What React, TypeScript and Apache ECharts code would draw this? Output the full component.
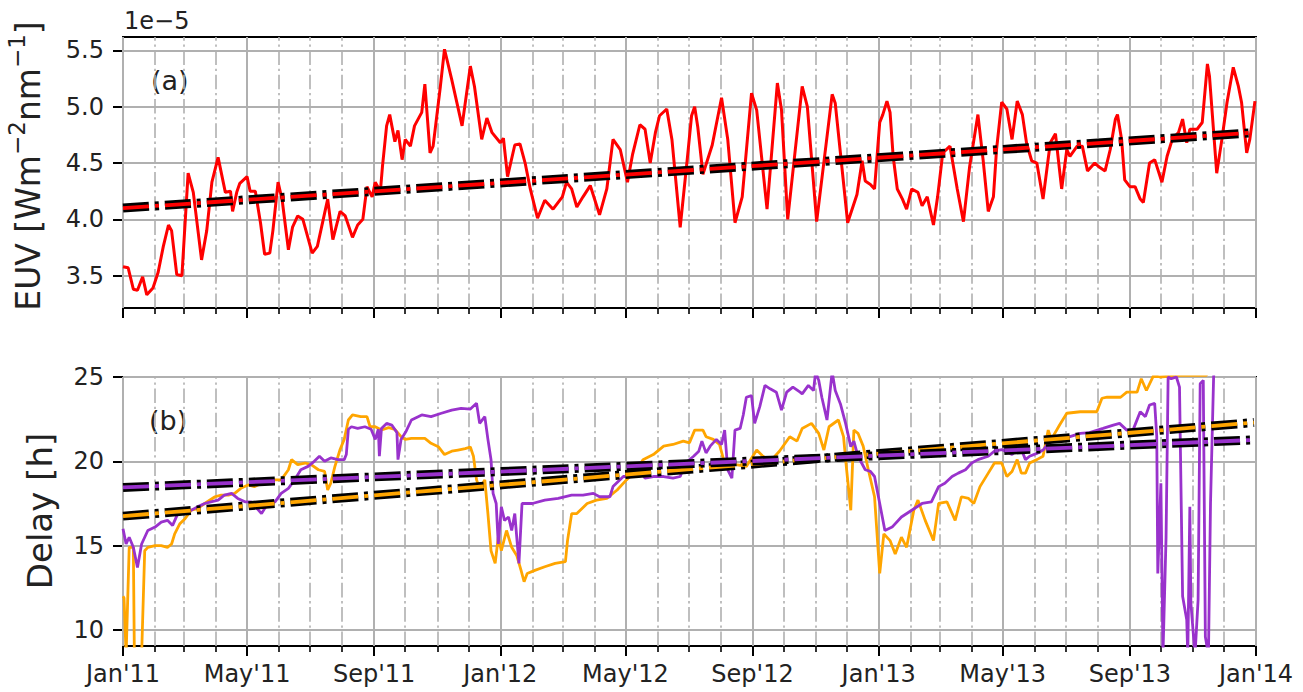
import React, { useEffect, useRef } from 'react';
import * as echarts from 'echarts';

// x values are days since 1 Jan 2011
const DAY0 = Date.UTC(2011, 0, 1);
const dayOf = (y: number, m: number) => Math.round((Date.UTC(y, m, 1) - DAY0) / 86400000);

const monthStarts: number[] = [];
for (let y = 2011; y <= 2013; y++) for (let m = 0; m < 12; m++) monthStarts.push(dayOf(y, m));
monthStarts.push(dayOf(2014, 0));
const majorDays = monthStarts.filter((_, i) => i % 4 === 0);
const xTickLabels = ["Jan'11", "May'11", "Sep'11", "Jan'12", "May'12", "Sep'12", "Jan'13", "May'13", "Sep'13", "Jan'14"];

const euvTicks = [3.5, 4.0, 4.5, 5.0, 5.5];
const delayTicks = [10, 15, 20, 25];

// EUV in units of 1e-5 W m^-2 nm^-1
const euv: [number, number][] = [
  [0,3.58],[5,3.57],[10,3.38],[14,3.37],[19,3.49],[23,3.33],[29,3.39],[34,3.53],[39,3.76],[44,3.95],[47,3.90],[52,3.51],[57,3.50],[63,4.41],[68,4.24],[76,3.64],[81,3.90],[86,4.33],[92,4.55],[99,4.24],[104,4.25],[106,4.07],[110,4.24],[113,4.32],[120,4.38],[123,4.25],[128,4.25],[133,3.97],[137,3.69],[142,3.70],[145,3.90],[150,4.33],[154,4.17],[160,3.73],[164,3.93],[169,4.03],[174,4.00],[183,3.70],[188,3.76],[198,4.18],[203,3.82],[210,4.07],[215,4.03],[222,3.84],[227,3.95],[232,4.00],[236,4.29],[241,4.20],[244,4.33],[249,4.25],[251,4.47],[255,4.83],[258,4.93],[263,4.69],[266,4.79],[270,4.53],[273,4.71],[278,4.65],[282,4.83],[289,4.95],[292,5.20],[297,4.59],[300,4.65],[307,5.18],[311,5.51],[318,5.24],[328,4.83],[336,5.36],[340,5.18],[347,4.71],[352,4.90],[357,4.77],[365,4.68],[368,4.72],[372,4.38],[379,4.66],[384,4.67],[389,4.50],[394,4.27],[401,4.01],[408,4.17],[416,4.09],[425,4.20],[429,4.33],[434,4.27],[439,4.11],[445,4.20],[452,4.30],[461,4.04],[468,4.27],[474,4.71],[481,4.62],[488,4.33],[493,4.58],[500,4.84],[505,4.80],[510,4.50],[515,4.77],[519,4.92],[526,4.98],[531,4.71],[539,3.93],[546,4.55],[550,4.92],[553,5.00],[556,4.82],[561,4.40],[570,4.66],[579,5.08],[585,4.71],[592,3.97],[599,4.20],[608,5.12],[613,4.97],[623,4.09],[633,5.21],[637,4.97],[643,4.00],[657,5.18],[662,5.00],[671,3.98],[686,5.11],[689,5.03],[701,3.97],[710,4.22],[715,4.52],[718,4.34],[723,4.31],[727,4.27],[732,4.86],[735,4.93],[739,5.05],[742,4.95],[745,4.56],[749,4.27],[754,4.18],[758,4.09],[763,4.27],[769,4.24],[773,4.12],[778,4.20],[784,3.95],[788,4.20],[793,4.59],[800,4.65],[807,4.27],[813,3.98],[819,4.47],[827,4.93],[832,4.53],[837,4.07],[842,4.20],[845,4.62],[850,5.04],[855,4.98],[860,4.71],[865,5.05],[870,4.93],[874,4.68],[879,4.52],[884,4.50],[890,4.18],[897,4.68],[902,4.76],[908,4.27],[913,4.62],[916,4.56],[923,4.65],[928,4.65],[933,4.43],[940,4.50],[945,4.46],[950,4.43],[955,4.62],[960,4.89],[962,4.93],[966,4.71],[969,4.35],[974,4.29],[979,4.29],[984,4.18],[987,4.15],[993,4.50],[998,4.53],[1005,4.33],[1010,4.56],[1015,4.71],[1021,4.77],[1025,4.89],[1029,4.68],[1032,4.80],[1039,4.80],[1044,4.86],[1049,5.38],[1051,5.27],[1058,4.41],[1063,4.71],[1068,5.04],[1074,5.35],[1079,5.18],[1082,5.04],[1087,4.59],[1090,4.71],[1095,5.05]
];

const delayPurple: [number, number][] = [
  [0,16.0],[1,15.7],[3,15.1],[6,15.5],[10,14.9],[14,13.7],[18,15.1],[21,15.5],[24,15.9],[31,16.1],[37,16.4],[43,16.5],[48,16.2],[53,16.9],[60,17.1],[66,17.1],[72,17.3],[79,17.5],[85,17.6],[92,17.7],[98,18.0],[105,18.1],[111,17.8],[118,17.6],[124,17.6],[134,16.9],[140,17.5],[147,17.6],[153,18.1],[160,18.4],[166,18.9],[172,19.5],[179,19.7],[185,20.0],[190,20.3],[195,20.0],[201,20.2],[208,20.1],[214,20.1],[216,20.4],[218,21.9],[221,22.05],[227,21.95],[234,22.05],[240,21.9],[244,21.3],[247,21.9],[248,20.3],[250,21.95],[255,22.25],[260,22.15],[265,21.7],[266,20.1],[269,21.3],[274,21.8],[279,22.45],[289,22.75],[298,22.65],[308,22.85],[318,23.04],[327,23.14],[336,23.1],[342,23.44],[345,22.25],[350,22.65],[353,21.3],[356,20.1],[358,18.1],[361,17.5],[363,15.1],[366,17.3],[369,16.5],[373,16.7],[376,15.9],[379,16.9],[383,13.95],[386,17.5],[396,17.5],[408,17.7],[421,17.8],[434,18.0],[445,18.0],[455,18.1],[461,17.9],[471,17.9],[474,18.5],[484,19.1],[494,19.1],[500,19.5],[505,19.0],[513,19.1],[523,19.1],[532,19.0],[539,19.1],[544,19.9],[552,20.3],[557,20.6],[560,21.2],[564,20.5],[568,20.9],[574,21.3],[579,21.0],[582,21.85],[585,19.5],[589,19.0],[592,21.85],[597,21.95],[600,22.75],[603,23.8],[608,23.9],[611,22.25],[616,23.24],[621,24.5],[626,24.3],[632,24.1],[637,23.04],[642,24.1],[648,24.4],[655,24.1],[657,24.0],[663,24.5],[668,24.2],[670,25.3],[673,24.8],[676,23.8],[681,22.45],[686,25.3],[689,24.2],[694,23.4],[699,22.25],[704,20.87],[707,21.2],[711,20.3],[718,19.5],[723,19.4],[727,19.1],[732,17.5],[737,15.9],[744,16.1],[753,16.7],[763,17.1],[773,17.5],[782,17.6],[789,18.5],[795,18.7],[802,19.1],[808,19.3],[815,19.5],[821,19.9],[827,20.1],[837,20.3],[843,20.6],[850,20.7],[860,20.4],[868,20.87],[873,20.1],[877,20.3],[884,20.47],[890,20.67],[897,21.2],[906,21.3],[916,21.46],[926,21.66],[935,21.7],[948,21.95],[958,22.15],[964,22.25],[971,21.85],[977,21.85],[984,22.94],[989,22.65],[993,23.34],[998,23.44],[1000,21.46],[1001,13.35],[1004,18.7],[1006,8.5],[1009,15.5],[1011,25.0],[1014,24.9],[1019,25.0],[1022,24.4],[1025,12.0],[1029,10.6],[1030,8.5],[1032,17.3],[1033,11.6],[1037,8.5],[1040,11.8],[1042,24.6],[1045,24.8],[1047,9.6],[1050,8.5],[1052,17.5],[1055,25.0],[1057,26.5]
];

const delayOrange: [number, number][] = [
  [0,12.0],[1,11.9],[3,8.5],[6,14.9],[10,14.9],[11,8.5],[18,8.5],[21,14.7],[24,14.9],[31,15.0],[37,15.0],[43,14.9],[47,15.1],[50,15.7],[55,16.3],[60,16.6],[66,17.1],[72,17.2],[79,17.5],[89,17.9],[95,18.0],[102,18.0],[108,18.1],[114,18.4],[121,18.6],[127,18.5],[134,18.7],[143,18.9],[153,18.9],[160,19.5],[163,20.1],[169,19.8],[176,19.9],[182,19.8],[189,19.5],[195,19.4],[198,18.3],[201,18.7],[205,19.7],[210,20.7],[214,21.3],[218,22.45],[222,22.75],[230,22.65],[236,22.65],[239,22.05],[244,22.05],[250,21.86],[257,22.0],[263,21.9],[269,21.46],[273,21.3],[279,21.36],[292,21.36],[298,21.07],[305,20.87],[311,20.4],[318,20.6],[324,20.67],[331,20.75],[336,20.85],[339,20.3],[342,18.9],[345,18.4],[350,18.9],[353,16.9],[356,14.7],[360,13.95],[363,15.5],[366,14.7],[371,15.9],[376,14.9],[381,14.4],[385,13.55],[388,12.86],[391,13.35],[399,13.55],[408,13.75],[418,13.95],[428,14.05],[430,15.3],[434,16.9],[439,16.9],[449,17.5],[458,17.7],[468,17.8],[478,18.3],[487,18.9],[497,19.5],[503,20.1],[513,20.4],[523,20.9],[532,21.0],[542,21.2],[548,21.1],[553,21.85],[561,21.85],[564,21.46],[571,21.3],[577,21.0],[581,20.1],[585,19.9],[593,19.8],[603,19.7],[613,20.67],[619,20.3],[626,20.0],[635,20.6],[645,21.46],[652,21.2],[657,21.95],[666,22.25],[673,21.66],[678,20.67],[683,22.05],[692,22.45],[697,21.46],[700,19.5],[704,17.1],[707,21.85],[711,21.66],[716,20.9],[721,19.5],[727,17.9],[732,13.35],[736,15.7],[742,15.3],[747,14.5],[753,15.5],[758,14.9],[765,17.1],[769,17.7],[776,16.5],[784,15.3],[789,17.5],[797,17.6],[805,16.5],[811,17.9],[818,17.8],[823,17.5],[829,18.5],[837,19.3],[843,19.9],[850,19.9],[855,19.1],[860,19.4],[865,20.1],[869,19.3],[873,19.3],[877,19.9],[884,20.1],[890,20.3],[895,21.85],[898,21.3],[906,22.15],[913,22.85],[926,22.94],[942,22.94],[947,23.74],[952,23.8],[965,23.8],[971,24.1],[981,24.1],[985,24.9],[990,24.2],[997,25.1],[1003,25.0],[1020,25.1],[1048,25.1],[1052,26.0]
];

// linear trends [day, value]
const euvTrend: [number, number][] = [[0, 4.10], [1094, 4.77]];
const purpleTrend: [number, number][] = [[0, 18.45], [1094, 21.27]];
const orangeTrend: [number, number][] = [[0, 16.75], [1094, 22.3]];

const FONT = 'DejaVu Sans';
const TXT = '#222';
const GRID_C = '#b0b0b0';
const TREND_DASH = [26, 6, 4, 6];
const MINOR_DASH = [14.6, 3.7, 2.3, 3.7];

const labelMap: Record<number, string> = {};
majorDays.forEach((d, i) => { labelMap[d] = xTickLabels[i]; });

function gridLines(yTicks: number[]) {
  return {
    silent: true,
    symbol: 'none',
    z: 1,
    animation: false,
    label: { show: false },
    emphasis: { disabled: true },
    data: [
      ...monthStarts.map((d, i) => ({
        xAxis: d,
        lineStyle: { color: GRID_C, width: i % 4 === 0 ? 2 : 1.6, type: i % 4 === 0 ? 'solid' : MINOR_DASH },
      })),
      ...yTicks.map((v) => ({ yAxis: v, lineStyle: { color: GRID_C, width: 2, type: 'solid' } })),
    ],
  };
}

function xAxes(gridIndex: number, showLabels: boolean) {
  const base = {
    gridIndex,
    type: 'value',
    min: 0,
    max: monthStarts[monthStarts.length - 1],
    position: 'bottom',
    splitLine: { show: false },
  };
  return [
    {
      ...base,
      axisLine: { show: true, lineStyle: { color: '#000', width: 2 } },
      axisTick: { show: true, length: 10, customValues: majorDays, lineStyle: { color: '#000', width: 2 } },
      axisLabel: {
        show: showLabels,
        customValues: majorDays,
        formatter: (v: number) => labelMap[Math.round(v)] ?? '',
        fontSize: 24,
        fontFamily: FONT,
        color: TXT,
        margin: 16,
      },
    },
    {
      ...base,
      axisLine: { show: false },
      axisTick: { show: true, length: 6, customValues: monthStarts, lineStyle: { color: '#000', width: 1.6 } },
      axisLabel: { show: false },
    },
  ];
}

function yAxis(gridIndex: number, min: number, max: number, ticks: number[], fmt: (v: number) => string) {
  return {
    gridIndex,
    type: 'value',
    min,
    max,
    splitLine: { show: false },
    axisLine: { show: true, lineStyle: { color: '#000', width: 2 } },
    axisTick: { show: true, length: 10, customValues: ticks, lineStyle: { color: '#000', width: 2 } },
    axisLabel: { customValues: ticks, formatter: fmt, fontSize: 24, fontFamily: FONT, color: TXT, margin: 19 },
  };
}

function trend(data: [number, number][], color: string, xi: number, yi: number, z: number) {
  return [
    {
      type: 'line', xAxisIndex: xi, yAxisIndex: yi, data, symbol: 'none', silent: true, z,
      lineStyle: { color: '#000', width: 9, type: TREND_DASH, cap: 'butt' },
    },
    {
      type: 'line', xAxisIndex: xi, yAxisIndex: yi, data, symbol: 'none', silent: true, z: z + 1,
      lineStyle: { color, width: 3.8, type: TREND_DASH, cap: 'butt' },
    },
  ];
}

export default function App() {
  const ref = useRef<HTMLDivElement>(null);
  useEffect(() => {
    if (!ref.current) return;
    const chart = echarts.init(ref.current, null, { renderer: 'svg' });
    const option: any = {
      animation: false,
      backgroundColor: '#fff',
      textStyle: { fontFamily: FONT },
      grid: [
        { left: 123, top: 37, width: 1133, height: 271, show: true, borderColor: '#000', borderWidth: 2, backgroundColor: 'transparent' },
        { left: 123, top: 377, width: 1133, height: 269, show: true, borderColor: '#000', borderWidth: 2, backgroundColor: 'transparent' },
      ],
      xAxis: [...xAxes(0, false), ...xAxes(1, true)],
      yAxis: [
        yAxis(0, 3.213, 5.619, euvTicks, (v: number) => v.toFixed(1)),
        yAxis(1, 9.05, 25, delayTicks, (v: number) => String(Math.round(v))),
      ],
      series: [
        {
          type: 'line', xAxisIndex: 0, yAxisIndex: 0, data: euv, symbol: 'none', z: 3, silent: true,
          lineStyle: { color: '#ff0000', width: 3 },
          markLine: gridLines(euvTicks),
        },
        ...trend(euvTrend, '#ff0000', 0, 0, 5),
        {
          type: 'line', xAxisIndex: 2, yAxisIndex: 1, data: delayOrange, symbol: 'none', z: 3, silent: true,
          lineStyle: { color: '#ffa500', width: 2.8 },
          markLine: gridLines(delayTicks),
        },
        {
          type: 'line', xAxisIndex: 2, yAxisIndex: 1, data: delayPurple, symbol: 'none', z: 4, silent: true,
          lineStyle: { color: '#9932cc', width: 2.8 },
        },
        ...trend(orangeTrend, '#ffa500', 2, 1, 5),
        ...trend(purpleTrend, '#9932cc', 2, 1, 7),
      ],
      graphic: [
        { type: 'text', x: 124, y: 21, style: { text: '1e\u22125', font: `24px "${FONT}"`, fill: TXT, textAlign: 'left', textVerticalAlign: 'middle' } },
        { type: 'text', x: 151, y: 80, style: { text: '(a)', font: `27px "${FONT}"`, fill: TXT, textAlign: 'left', textVerticalAlign: 'middle' } },
        { type: 'text', x: 149, y: 420, style: { text: '(b)', font: `27px "${FONT}"`, fill: TXT, textAlign: 'left', textVerticalAlign: 'middle' } },
        {
          type: 'text', x: 28, y: 166, rotation: Math.PI / 2,
          style: {
            text: '{n|EUV [Wm}{s|\u22122}{n|nm}{s|\u22121}{n|]}',
            fill: TXT, textAlign: 'center', textVerticalAlign: 'middle',
            rich: {
              n: { fontSize: 33, fontFamily: FONT, fill: TXT, lineHeight: 46, verticalAlign: 'middle' },
              s: { fontSize: 23, fontFamily: FONT, fill: TXT, lineHeight: 23, verticalAlign: 'top' },
            },
          },
        },
        { type: 'text', x: 40, y: 511, rotation: Math.PI / 2, style: { text: 'Delay [h]', font: `34px "${FONT}"`, fill: TXT, textAlign: 'center', textVerticalAlign: 'middle' } },
      ],
    };
    chart.setOption(option);
    return () => chart.dispose();
  }, []);
  return <div ref={ref} style={{ position: 'fixed', left: 0, top: 0, width: 1303, height: 692 }} />;
}
